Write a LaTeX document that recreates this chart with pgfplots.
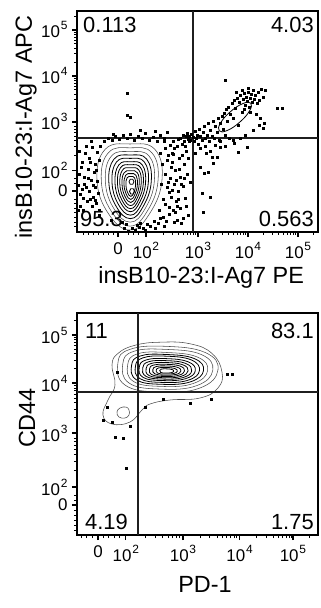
\documentclass[border=0pt]{standalone}
\usepackage{fontspec}
\setmainfont{Liberation Sans}
\usepackage{pgfplots}
\pgfplotsset{compat=1.18}
\newcommand{\dec}[1]{10\kern0.8bp\raisebox{8bp}{\fontsize{12}{12}\selectfont #1}}
\pgfplotsset{flow/.style={
  scale only axis, clip=false,
  axis line style={line width=1.7bp, black},
  tick pos=left, tick align=outside,
  major tick length=5bp, minor tick length=3bp,
  every major tick/.style={line width=1.3bp, black},
  every minor tick/.style={line width=1bp, black},
  xticklabel style={font=\fontsize{17}{17}\selectfont, yshift=-2bp},
  yticklabel style={font=\fontsize{17}{17}\selectfont, xshift=-1bp},
  },
  cont/.style={black, line width=0.8bp, smooth cycle, tension=0.75, mark=none},
  contl/.style={cont, black!70, line width=0.55bp},
  dots/.style={only marks, mark=square*, mark size=1bp, black},
  gate/.style={line width=1.7bp, black!88, mark=none}}
\begin{document}
\begin{tikzpicture}
\useasboundingbox (0,0) rectangle (321bp,608bp);
% ---------------- top panel ----------------
\begin{axis}[flow, at={(77bp,376bp)}, anchor=south west,
  width=241bp, height=221bp,
  xmin=0.68, xmax=5.5, ymin=0.587, ymax=5.391,
  xtick={1.5,2.06,3.1,4.1,5.1},
  xticklabels={0,\dec{2},\dec{3},\dec{4},\dec{5}},
  minor xtick={0.8,0.9,1.0,1.1,1.2,1.3,1.4,1.7,1.8,1.9,2.4,2.58,2.7,2.8,2.88,2.95,3.0,3.05,3.4,3.58,3.7,3.8,3.88,3.95,4.0,4.05,4.4,4.58,4.7,4.8,4.88,4.95,5.0,5.05,5.4},
  ytick={1.48,1.93,2.98,3.98,4.98},
  yticklabels={0,\dec{2},\dec{3},\dec{4},\dec{5}},
  minor ytick={0.7,0.8,0.9,1.0,1.1,1.2,1.3,1.65,1.75,2.26,2.44,2.57,2.67,2.75,2.82,2.88,3.28,3.46,3.58,3.68,3.76,3.82,3.88,3.93,4.28,4.46,4.58,4.68,4.76,4.82,4.88,4.93,5.28},
]
\addplot[contl] coordinates {(2.38,1.72)(2.24,2.38)(1.74,2.50)(1.24,2.38)(1.08,1.72)(1.30,1.00)(1.74,0.63)(2.14,1.00)};
\addplot[contl] coordinates {(2.301,1.707)(2.179,2.308)(1.743,2.417)(1.306,2.308)(1.166,1.707)(1.358,1.052)(1.743,0.715)(2.092,1.052)};
\addplot[contl] coordinates {(2.227,1.695)(2.122,2.236)(1.745,2.334)(1.368,2.236)(1.247,1.695)(1.413,1.104)(1.745,0.801)(2.047,1.104)};
\addplot[cont] coordinates {(2.165,1.684)(2.073,2.172)(1.747,2.261)(1.42,2.172)(1.316,1.684)(1.46,1.151)(1.747,0.877)(2.008,1.151)};
\addplot[cont] coordinates {(2.107,1.672)(2.028,2.108)(1.749,2.187)(1.469,2.108)(1.38,1.672)(1.503,1.197)(1.749,0.953)(1.972,1.197)};
\addplot[cont] coordinates {(2.051,1.661)(1.986,2.044)(1.751,2.114)(1.516,2.044)(1.44,1.661)(1.544,1.244)(1.751,1.029)(1.939,1.244)};
\addplot[cont] coordinates {(2.007,1.651)(1.951,1.988)(1.752,2.049)(1.553,1.988)(1.489,1.651)(1.577,1.284)(1.752,1.095)(1.911,1.284)};
\addplot[cont] coordinates {(1.964,1.642)(1.918,1.932)(1.753,1.985)(1.589,1.932)(1.536,1.642)(1.609,1.325)(1.753,1.162)(1.885,1.325)};
\addplot[cont] coordinates {(1.924,1.632)(1.887,1.876)(1.755,1.92)(1.622,1.876)(1.58,1.632)(1.638,1.365)(1.755,1.228)(1.861,1.365)};
\addplot[cont] coordinates {(1.888,1.622)(1.859,1.82)(1.756,1.856)(1.653,1.82)(1.62,1.622)(1.665,1.406)(1.756,1.295)(1.838,1.406)};
\addplot[cont] coordinates {(1.853,1.612)(1.832,1.764)(1.757,1.792)(1.682,1.764)(1.658,1.612)(1.691,1.447)(1.757,1.361)(1.817,1.447)};
\addplot[cont] coordinates {(1.82,1.68)(1.795,1.735)(1.745,1.735)(1.72,1.68)(1.745,1.625)(1.795,1.625)};
\addplot[cont] coordinates {(1.83,1.47)(1.805,1.525)(1.755,1.525)(1.73,1.47)(1.755,1.415)(1.805,1.415)};
% upper-right population
\addplot[cont] coordinates {(4.156,3.387)(4.128,3.215)(3.932,2.972)(3.684,2.793)(3.524,2.787)(3.552,2.959)(3.748,3.202)(3.996,3.378)};
% events
\addplot[dots] coordinates {
(0.72,1.85)(0.75,1.40)(0.78,2.10)(0.80,1.05)(0.82,1.62)(0.85,2.30)(0.88,1.25)(0.90,1.95)(0.92,1.48)(0.93,2.20)(0.96,1.72)(0.98,1.15)(0.99,2.42)(1.00,1.35)(1.02,1.88)(1.04,2.05)(1.05,1.55)(1.07,1.22)(1.08,2.32)(1.09,1.70)(1.11,1.42)(1.12,2.15)(1.13,1.05)(0.74,1.15)(0.83,1.78)(0.87,2.45)(0.94,1.30)(0.97,2.55)(0.79,1.52)(0.73,2.35)
(0.70,1.60)(0.76,2.00)(0.81,1.32)(0.91,1.75)(0.95,2.10)(1.00,1.60)(1.04,1.28)(1.07,1.92)(0.71,1.05)(0.86,1.55)
(1.62,0.68)(1.70,0.61)(1.78,0.66)(1.85,0.63)(1.92,0.70)(2.00,0.67)(2.08,0.75)(2.15,0.72)(2.22,0.82)(2.30,0.78)(1.36,0.85)(1.58,0.80)(1.95,0.78)
(1.66,0.75)(1.88,0.73)(2.05,0.62)(2.25,0.66)(2.35,0.88)(1.12,0.95)
(2.40,0.90)(2.45,1.20)(2.48,1.55)(2.50,2.25)(2.52,0.98)(2.55,1.75)(2.57,1.35)(2.58,2.10)(2.60,1.05)(2.62,1.62)(2.63,2.40)(2.65,1.92)(2.66,1.25)(2.68,0.85)(2.70,1.48)(2.72,2.20)(2.74,1.78)(2.75,1.10)(2.78,2.50)(2.80,1.58)(2.82,2.05)(2.84,1.32)(2.86,2.35)(2.88,1.85)(2.90,0.95)(2.92,2.55)(2.94,1.68)(2.60,2.55)(2.70,2.60)(2.55,2.48)(2.45,2.40)(2.68,1.15)(2.52,1.45)(2.77,0.78)(2.42,0.72)(2.85,2.45)(2.62,0.80)(2.73,1.95)(2.58,2.30)
(2.36,1.62)(2.38,2.05)(2.41,1.30)(2.44,1.85)(2.46,0.82)(2.49,2.15)(2.51,1.68)(2.53,1.12)(2.56,2.00)(2.59,1.50)(2.61,2.28)(2.64,1.02)(2.67,1.72)(2.69,2.45)(2.71,1.30)(2.76,1.62)(2.79,2.25)(2.81,0.88)(2.83,1.75)(2.87,1.15)(2.91,2.20)(2.35,2.30)(2.33,1.05)(2.43,2.55)
(1.15,2.45)(1.22,2.55)(1.30,2.62)(1.38,2.58)(1.45,2.66)(1.52,2.60)(1.60,2.70)(1.68,2.63)(1.75,2.72)(1.82,2.58)(1.90,2.68)(1.98,2.62)(2.05,2.74)(2.12,2.58)(2.20,2.65)(2.28,2.56)(2.35,2.70)(2.42,2.62)(1.95,2.80)(2.25,2.78)(1.40,2.72)(2.48,2.76)
(2.75,2.62)(2.80,2.70)(2.83,2.55)(2.86,2.66)(2.88,2.74)(2.90,2.60)(2.92,2.68)(2.95,2.58)(2.97,2.72)(3.00,2.65)(3.02,2.55)(3.04,2.78)(3.06,2.62)(3.08,2.70)(3.10,2.50)(3.12,2.82)(3.15,2.66)(3.18,2.58)(3.20,2.75)(3.22,2.88)(3.25,2.62)(3.28,2.70)(3.30,2.95)(3.32,2.55)(3.35,2.80)(3.38,2.68)(3.40,3.00)(3.42,2.62)(3.45,2.88)(3.48,2.75)(3.50,3.05)(3.52,2.58)(3.55,2.95)(3.58,3.10)(3.60,2.82)(3.62,3.18)(3.64,2.70)(3.66,3.25)(3.68,3.00)(3.70,3.30)(3.72,2.62)(3.75,3.15)(3.78,3.38)(3.80,3.05)(3.82,3.45)(3.85,3.28)(3.88,3.50)(3.90,2.90)(3.92,3.40)(3.95,3.55)(3.98,3.20)(4.00,3.48)(4.02,3.60)(4.04,3.35)(4.06,3.52)(4.08,3.42)(4.10,3.62)(4.12,3.30)(4.14,3.50)(4.16,3.58)(4.18,3.40)(4.20,3.66)(4.22,3.48)(4.25,3.55)(4.28,3.38)(4.30,3.62)(4.33,3.45)(4.36,3.70)(4.40,3.52)(4.45,3.68)(4.10,3.72)(3.98,3.66)(4.02,3.25)(3.86,3.62)(4.15,3.20)(4.26,3.15)(4.35,3.05)(4.42,2.95)(3.25,2.45)(3.35,2.35)(3.45,2.48)(3.15,2.40)(3.05,2.30)(3.38,2.22)(3.55,2.55)(3.65,2.45)(3.82,2.52)(3.95,2.62)(4.05,2.70)(4.20,2.80)(4.32,2.90)
(1.68,3.61)(1.68,3.13)(1.74,3.09)(3.64,3.89)(4.68,3.28)(4.78,3.28)(4.40,2.85)(4.08,2.43)(3.90,2.33)
(3.18,1.43)(3.22,1.87)(3.34,1.35)(3.20,1.02)(3.30,1.89)(3.48,2.22)(3.40,2.08)(3.54,2.43)(3.14,2.00)(3.26,2.30)(3.80,2.59)
};
\addplot[gate] coordinates {(3.0,0.587)(3.0,5.391)};
\addplot[gate] coordinates {(0.68,2.63)(5.5,2.63)};
\node[font=\fontsize{22}{22}\selectfont, anchor=north west, inner sep=0pt] at (axis description cs:0.025,0.973) {0.113};
\node[font=\fontsize{22}{22}\selectfont, anchor=north east, inner sep=0pt] at (axis description cs:0.983,0.973) {4.03};
\node[font=\fontsize{22}{22}\selectfont, anchor=south west, inner sep=0pt] at (axis description cs:0.012,0.023) {95.3};
\node[font=\fontsize{22}{22}\selectfont, anchor=south east, inner sep=0pt] at (axis description cs:0.983,0.023) {0.563};
\node[font=\fontsize{23.5}{24}\selectfont, anchor=base] at (axis description cs:0.515,-0.231) {insB10-23:I-Ag7 PE};
\node[font=\fontsize{23.5}{24}\selectfont, anchor=base, rotate=90] at (axis description cs:-0.187,0.475) {insB10-23:I-Ag7 APC};
\end{axis}
% ---------------- bottom panel ----------------
\begin{axis}[flow, at={(77bp,73bp)}, anchor=south west,
  width=241bp, height=222bp,
  xmin=1.073, xmax=5.455, ymin=1.02, ymax=5.373,
  xtick={1.455,1.96,3.0,4.03,5.0},
  xticklabels={0,\dec{2},\dec{3},\dec{4},\dec{5}},
  minor xtick={1.15,1.25,1.35,1.55,1.65,1.75,1.85,2.31,2.50,2.63,2.73,2.81,2.88,2.94,3.31,3.49,3.62,3.72,3.80,3.87,3.93,3.98,4.33,4.51,4.64,4.73,4.81,4.88,4.93,4.98,5.3},
  ytick={1.61,1.96,3.02,4.0,4.94},
  yticklabels={0,\dec{2},\dec{3},\dec{4},\dec{5}},
  minor ytick={1.1,1.2,1.3,1.4,1.5,1.7,1.8,2.28,2.47,2.60,2.70,2.78,2.86,2.92,3.32,3.49,3.61,3.70,3.78,3.85,3.90,3.95,4.28,4.45,4.57,4.66,4.73,4.79,4.85,4.90,5.22},
]
\addplot[contl] coordinates {(3.709,4.216)(3.636,3.902)(3.309,3.706)(2.764,3.667)(2.40,3.588)(2.255,3.471)(2.036,3.235)(1.709,3.196)(1.545,3.373)(1.636,3.667)(1.764,3.961)(1.709,4.353)(1.818,4.58)(2.127,4.74)(2.582,4.80)(3.127,4.77)(3.527,4.58)};
\addplot[contl] coordinates {(2.018,3.471)(1.964,3.529)(1.855,3.510)(1.8,3.431)(1.836,3.333)(1.945,3.314)(2.018,3.373)};
\addplot[contl] coordinates {(3.636,4.255)(3.40,4.60)(2.673,4.72)(2.036,4.66)(1.818,4.40)(1.945,3.961)(2.582,3.824)(3.309,3.902)};
\addplot[contl] coordinates {(3.542,4.252)(3.33,4.56)(2.676,4.66)(2.102,4.62)(1.906,4.38)(2.02,3.999)(2.594,3.881)(3.248,3.948)};
\addplot[contl] coordinates {(3.449,4.248)(3.26,4.51)(2.678,4.60)(2.169,4.57)(1.994,4.355)(2.096,4.034)(2.606,3.934)(3.187,3.991)};
\addplot[cont] coordinates {(3.374,4.246)(3.204,4.48)(2.681,4.56)(2.222,4.53)(2.065,4.344)(2.156,4.061)(2.615,3.975)(3.138,4.024)};
\addplot[cont] coordinates {(3.299,4.243)(3.148,4.454)(2.683,4.527)(2.275,4.495)(2.136,4.328)(2.217,4.086)(2.624,4.012)(3.09,4.054)};
\addplot[cont] coordinates {(3.224,4.241)(3.092,4.417)(2.685,4.479)(2.328,4.452)(2.206,4.312)(2.277,4.109)(2.634,4.048)(3.041,4.083)};
\addplot[cont] coordinates {(3.159,4.239)(3.043,4.387)(2.687,4.439)(2.375,4.417)(2.268,4.299)(2.33,4.129)(2.642,4.077)(2.998,4.106)};
\addplot[cont] coordinates {(3.093,4.238)(2.994,4.359)(2.689,4.402)(2.421,4.383)(2.33,4.286)(2.383,4.147)(2.65,4.104)(2.956,4.128)};
\addplot[cont] coordinates {(3.028,4.236)(2.945,4.333)(2.691,4.367)(2.468,4.353)(2.391,4.275)(2.436,4.163)(2.659,4.129)(2.913,4.149)};
\addplot[cont] coordinates {(2.962,4.235)(2.896,4.309)(2.692,4.335)(2.514,4.324)(2.453,4.264)(2.489,4.179)(2.667,4.153)(2.871,4.168)};
\addplot[cont] coordinates {(2.897,4.233)(2.847,4.286)(2.694,4.305)(2.561,4.297)(2.515,4.255)(2.541,4.194)(2.675,4.175)(2.828,4.186)};
\addplot[cont] coordinates {(2.831,4.232)(2.798,4.266)(2.696,4.278)(2.607,4.273)(2.577,4.246)(2.594,4.207)(2.683,4.196)(2.785,4.202)};
\addplot[dots] coordinates {(1.618,3.529)(1.545,3.275)(1.709,3.235)(1.764,2.941)(1.909,2.922)(1.964,2.333)(2.036,3.157)(1.8,4.216)(2.309,3.529)(2.636,3.686)(3.127,3.608)(3.509,3.686)(3.8,4.176)(3.891,4.176)};
\addplot[gate] coordinates {(2.18,1.02)(2.18,5.373)};
\addplot[gate] coordinates {(1.073,3.82)(5.455,3.82)};
\node[font=\fontsize{22}{22}\selectfont, anchor=north west, inner sep=0pt] at (axis description cs:0.033,0.955) {11};
\node[font=\fontsize{22}{22}\selectfont, anchor=north east, inner sep=0pt] at (axis description cs:0.983,0.955) {83.1};
\node[font=\fontsize{22}{22}\selectfont, anchor=south west, inner sep=0pt] at (axis description cs:0.033,0.0225) {4.19};
\node[font=\fontsize{22}{22}\selectfont, anchor=south east, inner sep=0pt] at (axis description cs:0.983,0.0225) {1.75};
\node[font=\fontsize{23.5}{24}\selectfont, anchor=base] at (axis description cs:0.531,-0.261) {PD-1};
\node[font=\fontsize{23.5}{24}\selectfont, anchor=base, rotate=90] at (axis description cs:-0.174,0.527) {CD44};
\end{axis}
\end{tikzpicture}
\end{document}
